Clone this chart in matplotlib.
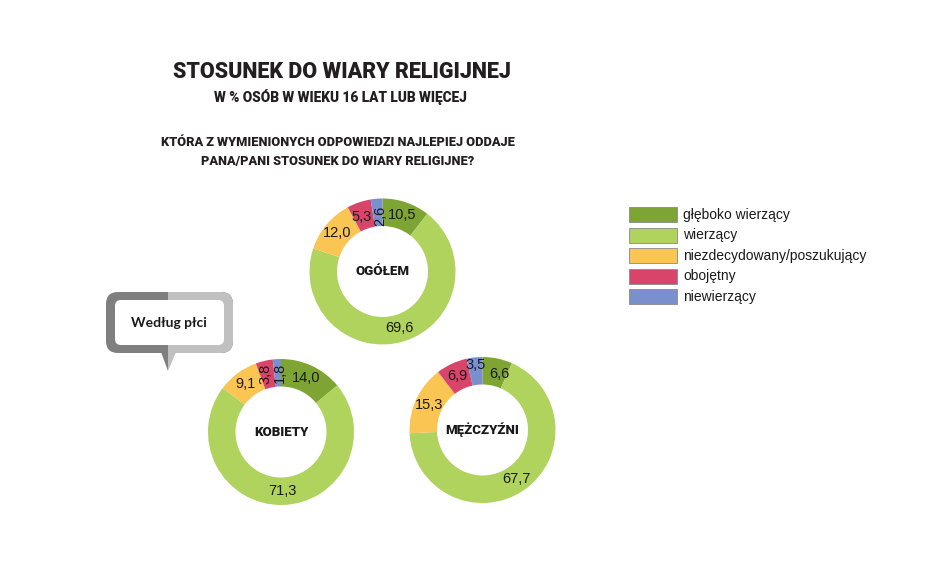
#donut charts: attitude to religious faith, overall and by sex
import matplotlib.pyplot as plt
import numpy as np
from matplotlib.patches import FancyBboxPatch, Polygon, Rectangle

plotName = 'out'

categories = ['głęboko wierzący', 'wierzący', 'niezdecydowany/poszukujący',
              'obojętny', 'niewierzący']
colors = ['#7ea534', '#afd35c', '#fac552', '#d9456a', '#7a8fcd']

groups = ['OGÓŁEM', 'KOBIETY', 'MĘŻCZYŹNI']
ogolem = [10.5, 69.6, 12.0, 5.3, 2.6]
kobiety = [14.0, 71.3, 9.1, 3.8, 1.8]
mezczyzni = [6.6, 67.7, 15.3, 6.9, 3.5]
values = [ogolem, kobiety, mezczyzni]

title = 'STOSUNEK DO WIARY RELIGIJNEJ'
subtitle = 'W % OSÓB W WIEKU 16 LAT LUB WIĘCEJ'
question = 'KTÓRA Z WYMIENIONYCH ODPOWIEDZI NAJLEPIEJ ODDAJE\nPANA/PANI STOSUNEK DO WIARY RELIGIJNE?'
callout = 'Według płci'

# layout (pixel coords, y down)
centers = [(382.5, 271.5), (281, 432), (482.5, 430)]
R = 73.
ring = 27.5
rotated = [[4], [3, 4], []]   # wedges whose label is drawn vertically
# small nudges (px) for crowded labels: (group, wedge) -> (dx, dy)
nudge = {(0, 3): (-2, 2), (0, 4): (3, 3), (1, 3): (-2, 0), (1, 4): (2, 0),
         (2, 0): (5, 2), (2, 4): (0, -6)}

fig = plt.figure(figsize=(9.38, 5.84), dpi=100)
ax = fig.add_axes([0, 0, 1, 1])

head = ['Roboto', 'DejaVu Sans']
body = ['Liberation Sans', 'DejaVu Sans']
bubble = ['Lato', 'DejaVu Sans']

ax.text(342, 72, title, ha='center', va='center', fontsize=15.5,
        fontweight='heavy', family=head, color='#231f20')
ax.text(340, 97, subtitle, ha='center', va='center', fontsize=9.8,
        fontweight='heavy', family=head, color='#231f20')
ax.text(338, 152, question, ha='center', va='center', fontsize=9.2,
        fontweight='heavy', family=head, color='#231f20', linespacing=1.6)

for k in range(len(groups)):
    cx, cy = centers[k]
    # y axis is inverted, so counterclock in data = clockwise on screen
    wedges, _ = ax.pie(values[k], colors=colors, center=(cx, cy), radius=R,
                       startangle=-90, counterclock=True, normalize=True,
                       wedgeprops=dict(width=ring, linewidth=0))
    rmid = R - ring / 2.
    for i, w in enumerate(wedges):
        ang = np.deg2rad((w.theta1 + w.theta2) / 2.)
        dx, dy = nudge.get((k, i), (0, 0))
        lx = cx + rmid * np.cos(ang) + dx
        ly = cy + rmid * np.sin(ang) + dy
        rot = 90 if i in rotated[k] else 0
        ax.text(lx, ly, ('%.1f' % values[k][i]).replace('.', ','),
                ha='center', va='center', fontsize=10.5, family=body,
                rotation=rot, color='#1a1a1a')
    ax.text(cx, cy, groups[k], ha='center', va='center', fontsize=9.5,
            fontweight='heavy', family=head, color='#1a1a1a')

# legend
for i in range(len(categories)):
    y0 = 214.5 + i * 20.6
    ax.add_patch(Rectangle((629, y0 - 7.5), 48, 15, facecolor=colors[i],
                           edgecolor='#8a8a8a', linewidth=0.6))
    ax.text(683, y0, categories[i], ha='left', va='center', fontsize=10,
            family=body, color='#1a1a1a')

# callout bubble
x0, y0, x1, y1 = 106, 292, 233, 353
mid = 168
dark, light = '#7f7f7f', '#c0c0c0'
outer_l = FancyBboxPatch((x0, y0), x1 - x0, y1 - y0,
                         boxstyle='round,pad=0,rounding_size=12',
                         facecolor=dark, edgecolor='none')
outer_r = FancyBboxPatch((x0, y0), x1 - x0, y1 - y0,
                         boxstyle='round,pad=0,rounding_size=12',
                         facecolor=light, edgecolor='none')
ax.add_patch(outer_l)
ax.add_patch(outer_r)
clip = Rectangle((mid, 280), 100, 100, transform=ax.transData)
outer_r.set_clip_path(clip)
ax.add_patch(Polygon([(161, 352), (mid, 352), (mid, 371)], facecolor=dark,
                     edgecolor='none'))
ax.add_patch(Polygon([(mid, 352), (176, 352), (mid, 371)], facecolor=light,
                     edgecolor='none'))
ax.add_patch(FancyBboxPatch((x0 + 9, y0 + 8), x1 - x0 - 18, y1 - y0 - 16,
                            boxstyle='round,pad=0,rounding_size=6',
                            facecolor='white', edgecolor='none'))
ax.text(mid + 1, 323, callout, ha='center', va='center', fontsize=10,
        fontweight='bold', family=bubble, color='#1a1a1a')

# pie() resets the limits, so set them last
ax.set_xlim(0, 938)
ax.set_ylim(584, 0)
ax.set_aspect('equal')
ax.axis('off')

fig.savefig(plotName + '.png', dpi=100)
